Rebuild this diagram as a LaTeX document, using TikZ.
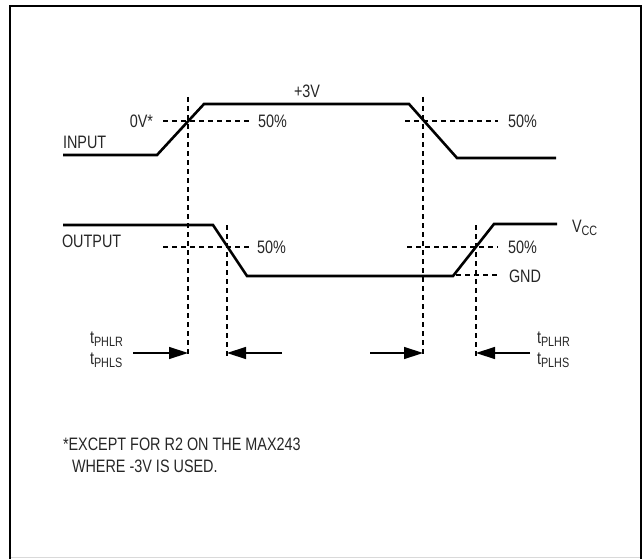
\documentclass[tikz,border=0pt]{standalone}
\usepackage{fontspec}
\setmainfont[FakeStretch=0.8]{Liberation Sans}
\usetikzlibrary{arrows.meta}
\newcommand{\tsub}[2]{#1\raisebox{-3.5pt}{\fontsize{13.5}{15}\selectfont #2}}
\begin{document}
\begin{tikzpicture}[x=1pt,y=-1pt,
  every node/.style={inner sep=0pt,outer sep=0pt,font=\fontsize{18}{21}\selectfont,text=black!85},
  sig/.style={line width=2.6pt,line join=miter},
  guide/.style={line width=1.2pt,dash pattern=on 5pt off 4pt},
  meas/.style={line width=1.4pt,-{Triangle[length=19pt,width=12pt]}},
  frame/.style={line width=2pt}]
\useasboundingbox (0,0) rectangle (642,559);
% frame
\coordinate (f1) at (10,559);
\coordinate (f2) at (10,6);
\coordinate (f3) at (640.5,6);
\coordinate (f4) at (640.5,559);
\draw[frame] (f1) -- (f2) -- (f3) -- (f4);
\coordinate (g1) at (11,557.5);
\coordinate (g2) at (640,557.5);
\draw[black!15,line width=1pt] (g1) -- (g2);
% input waveform
\coordinate (i0) at (63,155);
\coordinate (i1) at (157,155);
\coordinate (i2) at (204,104);
\coordinate (i3) at (409,104);
\coordinate (i4) at (457,158);
\coordinate (i5) at (556,158);
\draw[sig] (i0) -- (i1) -- (i2) -- (i3) -- (i4) -- (i5);
% output waveform
\coordinate (o0) at (63,225);
\coordinate (o1) at (213,225);
\coordinate (o2) at (247,276);
\coordinate (o3) at (453,276);
\coordinate (o4) at (494,224);
\coordinate (o5) at (557,224);
\draw[sig] (o0) -- (o1) -- (o2) -- (o3) -- (o4) -- (o5);
% horizontal guides
\coordinate (h1a) at (163,121); \coordinate (h1b) at (250,121);
\coordinate (h2a) at (405,121); \coordinate (h2b) at (498,121);
\coordinate (h3a) at (163,247); \coordinate (h3b) at (250,247);
\coordinate (h4a) at (407,247); \coordinate (h4b) at (498,247);
\coordinate (h5a) at (456,275); \coordinate (h5b) at (500,275);
\draw[guide] (h1a) -- (h1b);
\draw[guide] (h2a) -- (h2b);
\draw[guide] (h3a) -- (h3b);
\draw[guide] (h4a) -- (h4b);
\draw[guide] (h5a) -- (h5b);
% vertical guides
\coordinate (v1a) at (188,97);  \coordinate (v1b) at (188,356);
\coordinate (v2a) at (227,225); \coordinate (v2b) at (227,356);
\coordinate (v3a) at (423,97);  \coordinate (v3b) at (423,356);
\coordinate (v4a) at (476,225); \coordinate (v4b) at (476,356);
\draw[guide] (v1a) -- (v1b);
\draw[guide] (v2a) -- (v2b);
\draw[guide] (v3a) -- (v3b);
\draw[guide] (v4a) -- (v4b);
% measurement arrows
\coordinate (a1s) at (133,353); \coordinate (a1e) at (188,353);
\coordinate (a2s) at (282,353); \coordinate (a2e) at (227,353);
\coordinate (a3s) at (370,353); \coordinate (a3e) at (423,353);
\coordinate (a4s) at (530,353); \coordinate (a4e) at (476,353);
\draw[meas] (a1s) -- (a1e);
\draw[meas] (a2s) -- (a2e);
\draw[meas] (a3s) -- (a3e);
\draw[meas] (a4s) -- (a4e);
% labels
\node[anchor=base west] (linput) at (63,148) {INPUT};
\node[anchor=base east] (l0v) at (153,128) {0V*};
\node[anchor=base west] (l50a) at (258,128) {50\%};
\node[anchor=base west] (l3v) at (294,98) {+3V};
\node[anchor=base west] (l50b) at (508,128) {50\%};
\node[anchor=base west] (loutput) at (62,247) {OUTPUT};
\node[anchor=base west] (l50c) at (257,253) {50\%};
\node[anchor=base west] (l50d) at (508,253) {50\%};
\node[anchor=base west] (lgnd) at (509,282) {GND};
\node[anchor=base west] (lvcc) at (572,232) {\tsub{V}{CC}};
\node[anchor=base west] (lphlr) at (90,343) {\tsub{t}{PHLR}};
\node[anchor=base west] (lphls) at (90,364) {\tsub{t}{PHLS}};
\node[anchor=base west] (lplhr) at (537,343) {\tsub{t}{PLHR}};
\node[anchor=base west] (lplhs) at (537,364) {\tsub{t}{PLHS}};
\node[anchor=base west] (lnote1) at (63,450) {*EXCEPT FOR R2 ON THE MAX243};
\node[anchor=base west] (lnote2) at (72,472) {WHERE -3V IS USED.};
\end{tikzpicture}
\end{document}
